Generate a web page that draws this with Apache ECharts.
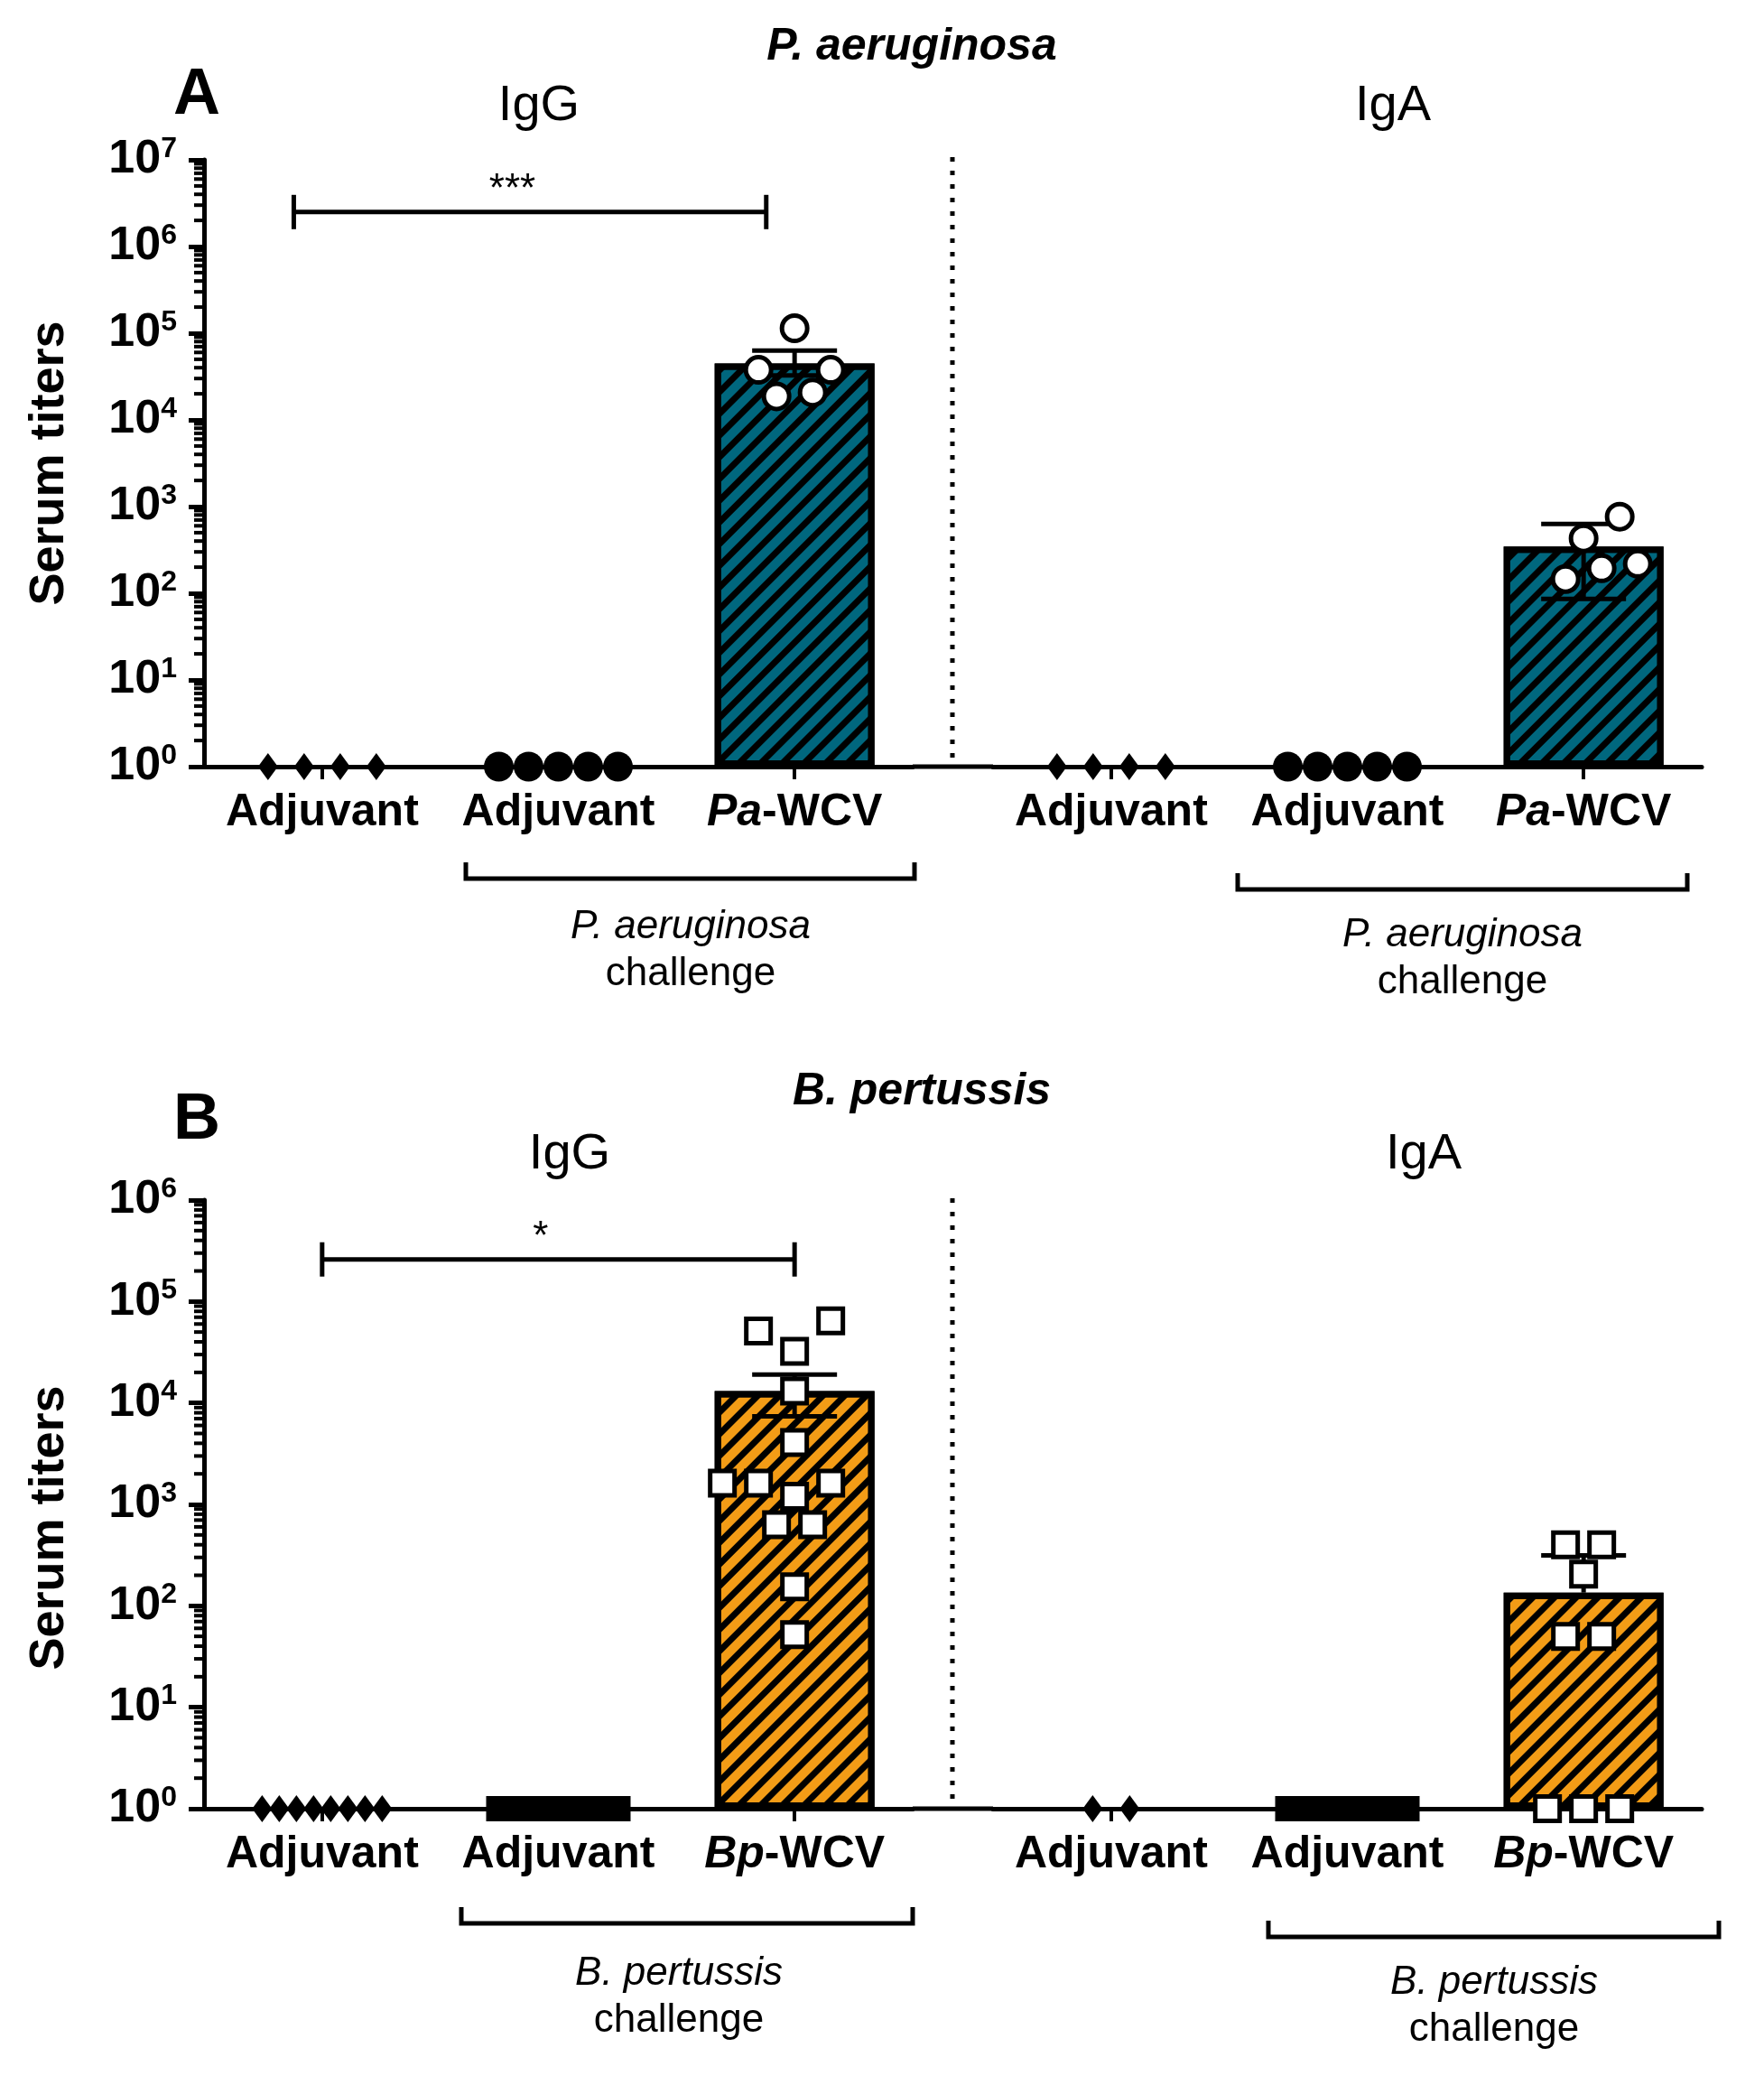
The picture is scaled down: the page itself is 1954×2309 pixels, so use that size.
<!DOCTYPE html>
<html>
<head>
<meta charset="utf-8">
<script src="https://cdn.jsdelivr.net/npm/echarts@6/dist/echarts.min.js"></script>
<style>
  html, body { margin: 0; padding: 0; background: #fff; }
  #main { width: 1954px; height: 2309px; }
</style>
</head>
<body>
<div id="main"></div>
<script>
// ---- data ----
var catsA = ['Adjuvant', 'Adjuvant', 'Pa-WCV'];
var catsB = ['Adjuvant', 'Adjuvant', 'Bp-WCV'];

// Panel A (P. aeruginosa) - IgG
var aIgGAdj   = [1, 1, 1, 1];
var aIgGAdjCh = [1, 1, 1, 1, 1];
var aIgGWcv   = [114000, 37800, 37800, 20700, 18700];
var aIgGBar   = [44700, 32600, 63000];   // mean, lower err, upper err
// Panel A - IgA
var aIgAAdj   = [1, 1, 1, 1];
var aIgAAdjCh = [1, 1, 1, 1, 1];
var aIgAWcv   = [765, 430, 219, 194, 146];
var aIgABar   = [347, 86, 631];

// Panel B (B. pertussis) - IgG
var bIgGAdj   = [1, 1, 1, 1, 1, 1, 1, 1];
var bIgGAdjCh = [1, 1, 1, 1, 1, 1, 1, 1, 1, 1, 1, 1];
var bIgGWcv   = [64500, 51300, 32200, 13100, 4080, 1620, 1620, 1620, 1200, 630, 630, 154, 52];
var bIgGBar   = [13100, 7360, 19000];
// Panel B - IgA
var bIgAAdj   = [1, 1];
var bIgAAdjCh = [1, 1, 1, 1, 1, 1, 1, 1, 1, 1, 1, 1];
var bIgAWcv   = [400, 400, 205, 50, 50, 1, 1, 1];
var bIgABar   = [135, null, 314];

// minor tick multipliers inside each decade of the log axes
var minorMult = [2, 3, 4, 5, 6, 7, 8, 9];

// significance brackets: [from category, to category, height]
var sigA = [-0.12, 1.88, 2.5e6];
var sigB = [0, 2, 2.6e5];

var FONT = '"Liberation Sans", Arial, Helvetica, sans-serif';
var TEAL = '#00677e';
var ORANGE = '#f39c16';

var boxes = [
  { left: 226,  top: 177,  width: 785, height: 672 },
  { left: 1100, top: 177,  width: 785, height: 672 },
  { left: 226,  top: 1329, width: 785, height: 674 },
  { left: 1100, top: 1329, width: 785, height: 674 }
];

// ---- dot layout (spread points that would overlap) ----
function swarm(ys, size, spacing) {
  var n = ys.length;
  var order = ys.map(function (y, i) { return i; }).sort(function (a, b) { return ys[b] - ys[a]; });
  var tol = size * 0.4;
  var rows = [];
  order.forEach(function (i) {
    var last = rows[rows.length - 1];
    if (last && Math.abs(ys[i] - ys[last[0]]) <= tol) last.push(i); else rows.push([i]);
  });
  var off = [];
  for (var q = 0; q < n; q++) off.push(0);
  var placed = [];
  var step = spacing / 2;
  var minD = size - 1;
  function fits(dx, y) {
    return placed.every(function (p) { return Math.hypot(dx - p[0], y - p[1]) >= minD; });
  }
  rows.forEach(function (row) {
    var m = row.length;
    var base = row.map(function (_, k) { return (k - (m - 1) / 2) * spacing; });
    var cands = [base];
    for (var k = 1; k <= 3; k++) {
      cands.push(base.map(function (b) { return b === 0 ? 0 : b + Math.sign(b) * k * step; }));
      cands.push(base.map(function (b) { return b + k * step; }));
      cands.push(base.map(function (b) { return b - k * step; }));
    }
    var ok = null;
    for (var c = 0; c < cands.length && !ok; c++) {
      var cand = cands[c];
      if (cand.every(function (dx, j) { return fits(dx, ys[row[j]]); })) ok = cand;
    }
    if (ok) {
      row.forEach(function (i, j) { off[i] = ok[j]; placed.push([ok[j], ys[i]]); });
    } else {
      row.forEach(function (i) {
        for (var t = 0; t < 24; t++) {
          var dx = (t % 2 ? -1 : 1) * Math.ceil(t / 2) * step;
          if (fits(dx, ys[i])) { off[i] = dx; placed.push([dx, ys[i]]); return; }
        }
      });
    }
  });
  return off;
}

var SHAPES = {
  diamond: { size: 22, draw: function (x, y) {
    return { type: 'polygon', shape: { points: [[x, y - 15], [x + 11, y], [x, y + 15], [x - 11, y]] }, style: { fill: '#000' } };
  } },
  dot: { size: 33, draw: function (x, y) {
    return { type: 'circle', shape: { cx: x, cy: y, r: 16.5 }, style: { fill: '#000' } };
  } },
  ring: { size: 33, draw: function (x, y) {
    return { type: 'circle', shape: { cx: x, cy: y, r: 14 }, style: { fill: '#fff', stroke: '#000', lineWidth: 5 } };
  } },
  block: { size: 28, draw: function (x, y) {
    return { type: 'rect', shape: { x: x - 14, y: y - 14, width: 28, height: 28 }, style: { fill: '#000' } };
  } },
  box: { size: 32, draw: function (x, y) {
    return { type: 'rect', shape: { x: x - 13.5, y: y - 13.5, width: 27, height: 27 }, style: { fill: '#fff', stroke: '#000', lineWidth: 5 } };
  } }
};

function pointSeries(g, cat, values, shape, spacing) {
  var sh = SHAPES[shape];
  return {
    type: 'custom', xAxisIndex: g, yAxisIndex: g, z: 5, clip: false, silent: true,
    data: values.map(function (v) { return [cat, v]; }),
    renderItem: function (params, api) {
      var ys = values.map(function (v) { return api.coord([cat, v])[1]; });
      var x0 = api.coord([cat, values[0]])[0];
      var offs = swarm(ys, sh.size, spacing);
      var i = params.dataIndex;
      return sh.draw(x0 + offs[i], ys[i]);
    }
  };
}

function barSeries(g, me, color) {
  return {
    type: 'bar', xAxisIndex: g, yAxisIndex: g, z: 2, barWidth: 177, silent: true,
    data: ['-', '-', me[0]],
    itemStyle: {
      color: color, borderColor: '#000', borderWidth: 7,
      decal: { symbol: 'rect', color: '#000', dashArrayX: [1, 0], dashArrayY: [7, 10], rotation: -Math.PI / 4 }
    }
  };
}

function errSeries(g, me) {
  return {
    type: 'custom', xAxisIndex: g, yAxisIndex: g, z: 4, clip: false, silent: true,
    data: [[2, me[0]]],
    renderItem: function (params, api) {
      var pm = api.coord([2, me[0]]);
      var x = pm[0];
      var yTop = api.coord([2, me[2]])[1];
      var yLow = me[1] ? api.coord([2, me[1]])[1] : pm[1];
      var ls = { stroke: '#000', lineWidth: 5 };
      var kids = [
        { type: 'line', shape: { x1: x, y1: yLow, x2: x, y2: yTop }, style: ls },
        { type: 'line', shape: { x1: x - 47, y1: yTop, x2: x + 47, y2: yTop }, style: ls }
      ];
      if (me[1]) kids.push({ type: 'line', shape: { x1: x - 47, y1: yLow, x2: x + 47, y2: yLow }, style: ls });
      return { type: 'group', children: kids };
    }
  };
}

// significance bracket, with the minor ticks of the log axis drawn in the same pass
function sigSeries(g, sig, stars, decades) {
  return {
    type: 'custom', xAxisIndex: g, yAxisIndex: g, z: 6, clip: false, silent: true,
    data: [[0, sig[2]]],
    renderItem: function (params, api) {
      var p0 = api.coord([0, sig[2]]);
      var band = api.coord([1, sig[2]])[0] - p0[0];
      var axisX = p0[0] - band / 2;
      var x1 = p0[0] + sig[0] * band, x2 = p0[0] + sig[1] * band, y = p0[1];
      var ls = { stroke: '#000', lineWidth: 5 };
      var kids = [
        { type: 'line', shape: { x1: x1, y1: y, x2: x2, y2: y }, style: ls },
        { type: 'line', shape: { x1: x1, y1: y - 19, x2: x1, y2: y + 19 }, style: ls },
        { type: 'line', shape: { x1: x2, y1: y - 19, x2: x2, y2: y + 19 }, style: ls },
        { type: 'text', x: (x1 + x2) / 2 - 0.075 * band, y: y - 24,
          style: { text: stars, fontSize: 44, fontFamily: FONT, fill: '#000', textAlign: 'center', textVerticalAlign: 'middle' } }
      ];
      for (var k = 0; k < decades; k++) {
        minorMult.forEach(function (m) {
          var ty = api.coord([0, m * Math.pow(10, k)])[1];
          kids.push({ type: 'line', shape: { x1: axisX - 11, y1: ty, x2: axisX, y2: ty },
            style: { stroke: '#000', lineWidth: 4 } });
        });
      }
      return { type: 'group', children: kids };
    }
  };
}

var catRich = {
  b: { fontSize: 50, fontWeight: 'bold', fontFamily: FONT, color: '#000' },
  bi: { fontSize: 50, fontWeight: 'bold', fontStyle: 'italic', fontFamily: FONT, color: '#000' }
};
function catFormatter(v) {
  if (v === 'Pa-WCV') return '{bi|Pa}{b|-WCV}';
  if (v === 'Bp-WCV') return '{bi|Bp}{b|-WCV}';
  return '{b|' + v + '}';
}

var xAxes = boxes.map(function (b, i) {
  return {
    type: 'category', gridIndex: i, data: i < 2 ? catsA : catsB,
    axisLine: { show: true, lineStyle: { color: '#000', width: 5 } },
    axisTick: { show: true, alignWithLabel: true, length: 14, lineStyle: { color: '#000', width: 4 } },
    axisLabel: { margin: 26, interval: 0, formatter: catFormatter, rich: catRich },
    splitLine: { show: false }
  };
});

var yAxes = boxes.map(function (b, i) {
  var left = i % 2 === 0;
  return {
    type: 'log', gridIndex: i, logBase: 10, min: 1, max: i < 2 ? 1e7 : 1e6, splitNumber: i < 2 ? 7 : 6,
    show: left,
    axisLine: { show: true, lineStyle: { color: '#000', width: 5 } },
    axisTick: { show: true, length: 17, lineStyle: { color: '#000', width: 5 } },
    axisLabel: {
      margin: 30,
      formatter: function (v) { return '{b|10}{s|' + Math.round(Math.log10(v)) + '}'; },
      rich: {
        b: { fontSize: 52, fontWeight: 'bold', fontFamily: FONT, color: '#000', lineHeight: 56 },
        s: { fontSize: 32, fontWeight: 'bold', fontFamily: FONT, color: '#000', lineHeight: 32, verticalAlign: 'top' }
      }
    },
    splitLine: { show: false },
    name: left ? 'Serum titers' : '',
    nameLocation: 'middle', nameGap: 144,
    nameTextStyle: { fontSize: 54, fontWeight: 'bold', fontFamily: FONT, color: '#000',
      padding: i === 2 ? [0, 52, 0, 0] : 0 }
  };
});

var series = [
  barSeries(0, aIgGBar, TEAL), barSeries(1, aIgABar, TEAL),
  barSeries(2, bIgGBar, ORANGE), barSeries(3, bIgABar, ORANGE),
  errSeries(0, aIgGBar), errSeries(1, aIgABar), errSeries(2, bIgGBar), errSeries(3, bIgABar),
  pointSeries(0, 0, aIgGAdj, 'diamond', 40), pointSeries(0, 1, aIgGAdjCh, 'dot', 33), pointSeries(0, 2, aIgGWcv, 'ring', 40),
  pointSeries(1, 0, aIgAAdj, 'diamond', 40), pointSeries(1, 1, aIgAAdjCh, 'dot', 33), pointSeries(1, 2, aIgAWcv, 'ring', 40),
  pointSeries(2, 0, bIgGAdj, 'diamond', 19), pointSeries(2, 1, bIgGAdjCh, 'block', 12), pointSeries(2, 2, bIgGWcv, 'box', 40),
  pointSeries(3, 0, bIgAAdj, 'diamond', 41), pointSeries(3, 1, bIgAAdjCh, 'block', 12), pointSeries(3, 2, bIgAWcv, 'box', 40),
  sigSeries(0, sigA, '***', 7), sigSeries(2, sigB, '*', 6)
];

// ---- annotations ----
function txt(s, x, y, size, weight, style) {
  return { type: 'text', x: x, y: y, z: 10, silent: true,
    style: { text: s, fontSize: size, fontWeight: weight || 'normal', fontStyle: style || 'normal',
      fontFamily: FONT, fill: '#000', textAlign: 'center', textVerticalAlign: 'middle' } };
}
function poly(pts, dash) {
  return { type: 'polyline', z: 10, silent: true, shape: { points: pts },
    style: { stroke: '#000', lineWidth: 5, fill: null, lineDash: dash || null } };
}
var yA = boxes[0].top + boxes[0].height, yB = boxes[2].top + boxes[2].height;
var graphics = [
  txt('P. aeruginosa', 1010, 52, 50, 'bold', 'italic'),
  txt('A', 218, 106, 72, 'bold'),
  txt('IgG', 597, 118, 56), txt('IgA', 1543, 118, 56),
  poly([[1011, yA], [1100, yA]]),
  poly([[1055, 174], [1055, yA]], [5, 10]),
  poly([[516, 955], [516, 973], [1013, 973], [1013, 955]]),
  txt('P. aeruginosa', 765, 1027, 44, 'normal', 'italic'), txt('challenge', 765, 1079, 44),
  poly([[1371, 967], [1371, 985], [1869, 985], [1869, 967]]),
  txt('P. aeruginosa', 1620, 1036, 44, 'normal', 'italic'), txt('challenge', 1620, 1088, 44),

  txt('B. pertussis', 1021, 1209, 50, 'bold', 'italic'),
  txt('B', 218, 1241, 72, 'bold'),
  txt('IgG', 631, 1279, 56), txt('IgA', 1577, 1279, 56),
  poly([[1011, yB], [1100, yB]]),
  poly([[1055, 1327], [1055, yB]], [5, 10]),
  poly([[511, 2112], [511, 2130], [1011, 2130], [1011, 2112]]),
  txt('B. pertussis', 752, 2186, 44, 'normal', 'italic'), txt('challenge', 752, 2238, 44),
  poly([[1405, 2127], [1405, 2145], [1904, 2145], [1904, 2127]]),
  txt('B. pertussis', 1655, 2196, 44, 'normal', 'italic'), txt('challenge', 1655, 2248, 44)
];

var chart = echarts.init(document.getElementById('main'));
chart.setOption({
  backgroundColor: '#fff',
  animation: false,
  grid: boxes.map(function (b) {
    return { left: b.left, top: b.top, width: b.width, height: b.height, containLabel: false, outerBoundsMode: 'none' };
  }),
  xAxis: xAxes,
  yAxis: yAxes,
  series: series,
  graphic: graphics
});
</script>
</body>
</html>
